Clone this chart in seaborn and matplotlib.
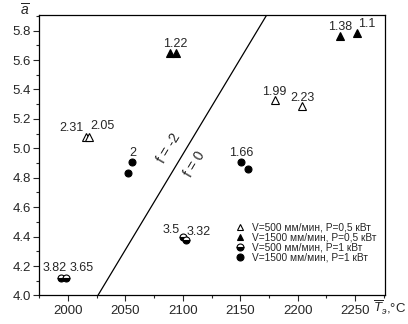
import matplotlib
matplotlib.use("Agg")
import matplotlib.pyplot as plt
from matplotlib.lines import Line2D
from matplotlib.ticker import MultipleLocator, FormatStrFormatter
import seaborn as sns
import pandas as pd

# V=500, P=0.5 (open triangles)
t_500_05 = [2016, 2018, 2180, 2204]
a_500_05 = [5.08, 5.08, 5.33, 5.285]

# V=1500, P=0.5 (filled triangles)
t_1500_05 = [2089, 2094, 2237, 2252]
a_1500_05 = [5.645, 5.645, 5.765, 5.785]

# V=500, P=1 (half-filled circles)
t_500_1 = [1993.5, 1998, 2100, 2102.5]
a_500_1 = [4.117, 4.12, 4.40, 4.375]

# V=1500, P=1 (filled circles)
t_1500_1 = [2056, 2052.5, 2151, 2157]
a_1500_1 = [4.91, 4.83, 4.905, 4.86]

# boundary line f=-2 / f=0
line_t = [2026, 2173]
line_a = [4.0, 5.906]

# point labels (text, x, y)
annotations = [
    ("2.31", 2003, 5.14), ("2.05", 2030, 5.15), ("1.99", 2180, 5.385), ("2.23", 2204, 5.34),
    ("1.22", 2093, 5.71), ("1.38", 2237, 5.825), ("1.1", 2260, 5.845),
    ("2", 2056, 4.97), ("1.66", 2151, 4.965),
    ("3.5", 2090, 4.446), ("3.32", 2114, 4.43), ("3.82", 1988.5, 4.19), ("3.65", 2012, 4.19),
]

legend_labels = ["V=500 мм/мин, P=0,5 кВт", "V=1500 мм/мин, P=0,5 кВт",
                 "V=500 мм/мин, P=1 кВт", "V=1500 мм/мин, P=1 кВт"]

sns.set_style("ticks")
plt.rcParams['font.family'] = ['Liberation Sans', 'DejaVu Sans']
plt.rcParams['mathtext.fontset'] = 'custom'
plt.rcParams['mathtext.it'] = 'Liberation Sans:italic'
plt.rcParams['mathtext.rm'] = 'Liberation Sans'

fig = plt.figure(figsize=(4.08, 3.24), dpi=100)
ax = fig.add_axes([0.0963, 0.088, 0.8473, 0.8657])

styles = [
    (t_500_05, a_500_05, dict(marker='^', markerfacecolor='white', markersize=5.5)),
    (t_1500_05, a_1500_05, dict(marker='^', markerfacecolor='black', markersize=6)),
    (t_500_1, a_500_1, dict(marker='o', fillstyle='bottom', markerfacecolor='black',
                            markerfacecoloralt='white', markersize=5)),
    (t_1500_1, a_1500_1, dict(marker='o', markerfacecolor='black', markersize=5)),
]
for xs, ys, kw in styles:
    df = pd.DataFrame({"T": xs, "a": ys})
    sns.lineplot(data=df, x="T", y="a", ax=ax, linestyle='', sort=False, estimator=None,
                 markeredgecolor='black', markeredgewidth=0.8, **kw)

sns.lineplot(x=line_t, y=line_a, ax=ax, color='black', linewidth=0.9, sort=False, estimator=None)

for txt, x, y in annotations:
    ax.text(x, y, txt, fontsize=9, ha='center', va='center')

ax.text(2088, 5.0, "f = -2", fontsize=10, rotation=59, ha='center', va='center')
ax.text(2110, 4.89, "f = 0", fontsize=10, rotation=59, ha='center', va='center')

handles = []
for _, _, kw in styles:
    hk = {k: v for k, v in kw.items() if k != 'markersize'}
    handles.append(Line2D([], [], linestyle='', markeredgecolor='black', markeredgewidth=0.8,
                          markersize=5, **hk))
ax.legend(handles, legend_labels, loc='upper left', bbox_to_anchor=(0.566, 0.261), frameon=False,
          fontsize=7.3, handlelength=1.0, handletextpad=0.68, labelspacing=0.0,
          borderpad=0, borderaxespad=0)

ax.set_xlim(1975, 2276)
ax.set_ylim(4.0, 5.906)
ax.xaxis.set_major_locator(MultipleLocator(50))
ax.xaxis.set_minor_locator(MultipleLocator(25))
ax.yaxis.set_major_locator(MultipleLocator(0.2))
ax.yaxis.set_minor_locator(MultipleLocator(0.1))
ax.yaxis.set_major_formatter(FormatStrFormatter("%.1f"))
ax.tick_params(axis='both', which='major', direction='out', length=4, width=0.8, labelsize=9.5, pad=3)
ax.tick_params(axis='y', which='major', pad=2)
ax.tick_params(axis='both', which='minor', direction='out', length=2, width=0.8)
ax.set_xlabel("")
ax.set_ylabel("")
for s in ax.spines.values():
    s.set_linewidth(0.9)
    s.set_color('black')

fig.text(25 / 408, 1 - 10 / 324, r"$\overline{a}$", fontsize=10, ha='center', va='center')
fig.text(390 / 408, 1 - 308 / 324, r"$\overline{T}_{э}$,°C", fontsize=9.5, ha='center', va='center')

fig.savefig("out.png", dpi=100)
